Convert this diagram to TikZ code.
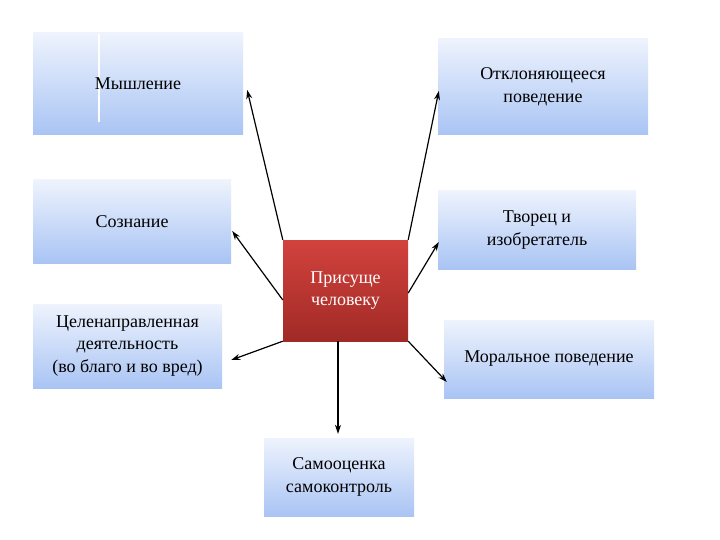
\documentclass[tikz,border=0pt]{standalone}
\usepackage{fontspec}
\setmainfont{Liberation Serif}
\usetikzlibrary{arrows.meta,calc}
\definecolor{boxtop}{HTML}{EEF3FD}
\definecolor{boxbot}{HTML}{A9C4F4}
\definecolor{redtop}{HTML}{D2423D}
\definecolor{redbot}{HTML}{A12A26}
\begin{document}
\begin{tikzpicture}[x=1pt,y=-1pt,
  txt/.style={align=center,inner sep=0pt,font=\fontsize{18}{22.5}\selectfont},
  bluebox/.style={txt,top color=boxtop,bottom color=boxbot,draw=none},
  redbox/.style={txt,top color=redtop,bottom color=redbot,draw=none,text=white},
  arr/.style={-{Stealth[length=9pt,width=6pt]},line width=1.2pt,black}
]
\useasboundingbox[fill=white] (0,0) rectangle (720,540);
\node[bluebox,minimum width=210pt,minimum height=102pt,
  path picture={\draw[white,line width=1.2pt]
    ([xshift=66pt,yshift=-1pt]path picture bounding box.north west) -- ++(0pt,-88pt);}]
  (m) at (138,84) {Мышление};
\node[bluebox,minimum width=210pt,minimum height=96pt] (o) at (543,87) {Отклоняющееся\\поведение};
\node[bluebox,minimum width=198pt,minimum height=83pt] (s) at (132,221.5) {Сознание};
\node[bluebox,minimum width=198pt,minimum height=78pt] (t) at (537,230) {Творец и\\изобретатель};
\node[redbox,minimum width=125pt,minimum height=101pt] (c) at (345.5,290.5) {Присуще\\человеку};
\node[bluebox,minimum width=189pt,minimum height=84pt] (g) at (127.5,346) {Целенаправленная\\деятельность\\(во благо и во вред)};
\node[bluebox,minimum width=210pt,minimum height=78pt] (r) at (549,359) {Моральное поведение};
\node[bluebox,minimum width=150pt,minimum height=78pt] (q) at (339,477) {Самооценка\\самоконтроль};
\draw[arr] (c.north west) -- ($(m.east)+(4,6)$);
\draw[arr] (c.north east) -- ($(o.west)+(1,4)$);
\draw[arr] ($(c.west)+(0,9.5)$) -- ($(s.east)+(1,9.5)$);
\draw[arr] ($(c.east)+(0,2.5)$) -- ($(t.west)+(1,12)$);
\draw[arr] (c.south west) -- ($(g.east)+(9,14)$);
\draw[arr] (c.south east) -- ($(r.west)+(3,23)$);
\draw[arr] ($(c.south)+(-7.5,0)$) -- ($(q.north)+(-1,-4)$);
\end{tikzpicture}
\end{document}
